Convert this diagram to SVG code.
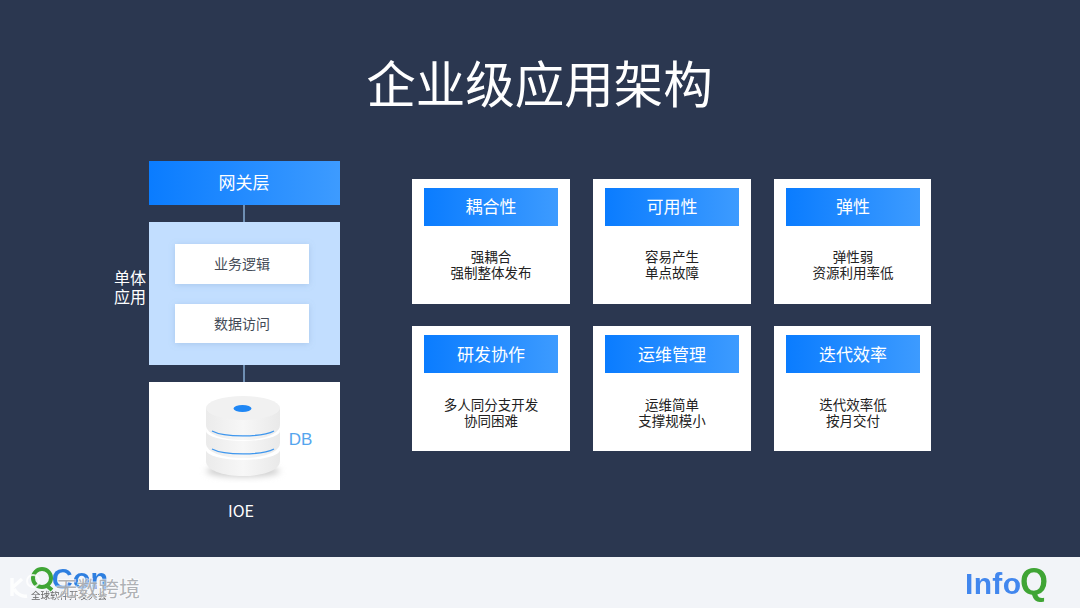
<svg xmlns="http://www.w3.org/2000/svg" width="1080" height="608" viewBox="0 0 1080 608">
<defs>
<linearGradient id="blue" x1="0" y1="0" x2="1" y2="0"><stop offset="0" stop-color="#0a7cff"/><stop offset="1" stop-color="#3d9bff"/></linearGradient>
<linearGradient id="disk" x1="0" y1="0" x2="1" y2="0"><stop offset="0" stop-color="#ebebeb"/><stop offset="0.5" stop-color="#f7f7f7"/><stop offset="1" stop-color="#e9e9e9"/></linearGradient>
<filter id="sh" x="-20%" y="-30%" width="140%" height="160%"><feDropShadow dx="0" dy="1" stdDeviation="3" flood-color="#6f93bd" flood-opacity="0.3"/></filter>
<filter id="blur" x="-20%" y="-50%" width="140%" height="200%"><feGaussianBlur stdDeviation="3"/></filter>
<filter id="soft" x="-5%" y="-20%" width="110%" height="140%"><feGaussianBlur stdDeviation="0.5"/></filter>
</defs>
<style>
text{font-family:"Noto Sans CJK SC","Noto Sans","Liberation Sans",sans-serif;text-anchor:middle}
.w{fill:#fff}
.hdr{fill:url(#blue)}
.ht{fill:#fff;font-size:17px}
.bt{fill:#222;font-size:13.5px}
.in{fill:#444b57;font-size:14px}
.lbl{fill:#fff;font-size:16px}
.con{stroke:#6f8fb3;stroke-width:2;fill:none}
</style>
<rect width="1080" height="608" fill="#2b3750"/>
<text x="539.500" y="103" fill="#fff" font-size="49.500">企业级应用架构</text>

<g id="connectors"><line class="con" x1="244" y1="205" x2="244" y2="222"/><line class="con" x1="244" y1="365" x2="244" y2="382"/></g>

<g id="gateway"><rect class="hdr" x="149" y="161" width="191" height="44"/><text class="ht" x="244" y="189">网关层</text></g>
<g id="monolith"><rect x="149" y="222" width="191" height="143" fill="#c2deff"/>
<text class="lbl" x="130" y="284">单体</text><text class="lbl" x="130" y="303">应用</text></g>
<g id="biz"><rect class="w" x="175" y="244" width="134" height="40" filter="url(#sh)"/><text class="in" x="242" y="269">业务逻辑</text></g>
<g id="data"><rect class="w" x="175" y="304" width="134" height="39" filter="url(#sh)"/><text class="in" x="242" y="329">数据访问</text></g>
<g id="db"><rect class="w" x="149" y="382" width="191" height="108"/>
<ellipse cx="243" cy="471" rx="37" ry="6" fill="#ccc" filter="url(#blur)"/>
<path d="M206 451V461C206 470 222 476 243 476S280 470 280 461V451Z" fill="url(#disk)"/>
<ellipse cx="243" cy="450" rx="37" ry="10" fill="#fff"/>
<path d="M206 430V443C206 452 222 458 243 458S280 452 280 443V430Z" fill="url(#disk)"/>
<path d="M212 449C224 455.500 262 455.500 274 449" fill="none" stroke="#3f97ee" stroke-width="1.300"/>
<ellipse cx="243" cy="431" rx="37" ry="10" fill="#fff"/>
<path d="M206 408V425C206 434 222 440 243 440S280 434 280 425V408Z" fill="url(#disk)"/>
<path d="M212 431C224 437.500 262 437.500 274 431" fill="none" stroke="#3f97ee" stroke-width="1.300"/>
<ellipse cx="243" cy="408" rx="37" ry="12" fill="#f1f1f1"/>
<ellipse cx="242.500" cy="408.500" rx="9" ry="3.500" fill="#1f87f5"/>
<text x="300.500" y="445" fill="#55a5ee" font-size="17" style="font-family:'Liberation Sans',sans-serif">DB</text></g>
<text class="lbl" x="241" y="517">IOE</text>

<g id="card1"><rect class="w" x="412" y="179" width="158" height="125"/><rect class="hdr" x="424" y="188" width="134" height="38"/><text class="ht" x="491" y="213">耦合性</text><text class="bt" x="491" y="262">强耦合</text><text class="bt" x="491" y="278">强制整体发布</text></g>
<g id="card2"><rect class="w" x="593" y="179" width="158" height="125"/><rect class="hdr" x="605" y="188" width="134" height="38"/><text class="ht" x="672" y="213">可用性</text><text class="bt" x="672" y="262">容易产生</text><text class="bt" x="672" y="278">单点故障</text></g>
<g id="card3"><rect class="w" x="774" y="179" width="157" height="125"/><rect class="hdr" x="786" y="188" width="134" height="38"/><text class="ht" x="853" y="213">弹性</text><text class="bt" x="853" y="262">弹性弱</text><text class="bt" x="853" y="278">资源利用率低</text></g>
<g id="card4"><rect class="w" x="412" y="326" width="158" height="125"/><rect class="hdr" x="424" y="335" width="134" height="38"/><text class="ht" x="491" y="360.500">研发协作</text><text class="bt" x="491" y="409.500">多人同分支开发</text><text class="bt" x="491" y="425.500">协同困难</text></g>
<g id="card5"><rect class="w" x="593" y="326" width="158" height="125"/><rect class="hdr" x="605" y="335" width="134" height="38"/><text class="ht" x="672" y="360.500">运维管理</text><text class="bt" x="672" y="409.500">运维简单</text><text class="bt" x="672" y="425.500">支撑规模小</text></g>
<g id="card6"><rect class="w" x="774" y="326" width="157" height="125"/><rect class="hdr" x="786" y="335" width="134" height="38"/><text class="ht" x="853" y="360.500">迭代效率</text><text class="bt" x="853" y="409.500">迭代效率低</text><text class="bt" x="853" y="425.500">按月交付</text></g>

<rect y="557" width="1080" height="51" fill="#f2f4f8"/>
<g id="qcon" filter="url(#soft)">
<circle cx="42" cy="578" r="9" fill="none" stroke="#3fa535" stroke-width="4"/>
<path d="M46 585L52 590" stroke="#3fa535" stroke-width="4"/>
<text x="80" y="589" fill="#2f7fe0" font-size="29" font-weight="700" style="font-family:'Liberation Sans',sans-serif">Con</text>
<text x="69" y="599" fill="#666" font-size="9.500">全球软件开发大会</text>
</g>
<g id="watermark">
<path d="M12 578V596M12 588L22 579M14 589C17 594 22 597 27 596" fill="none" stroke="#fff" stroke-opacity="0.85" stroke-width="3.500"/>
<circle cx="33" cy="581" r="6" fill="none" stroke="#fff" stroke-opacity="0.8" stroke-width="2"/>
<text x="98" y="596" fill="#a2a4a8" fill-opacity="0.85" stroke="#fff" stroke-opacity="0.6" stroke-width="2" paint-order="stroke" font-size="21">无数跨境</text>
</g>
<g id="infoq" filter="url(#soft)">
<text x="965" y="594" fill="#4287ee" font-size="30" font-weight="700" textLength="56" style="text-anchor:start;font-family:'Liberation Sans',sans-serif">Info</text>
<text x="1020" y="594" fill="#3fa535" font-size="36" font-weight="700" textLength="30" style="text-anchor:start;font-family:'Liberation Sans',sans-serif">Q</text>
</g>
</svg>
